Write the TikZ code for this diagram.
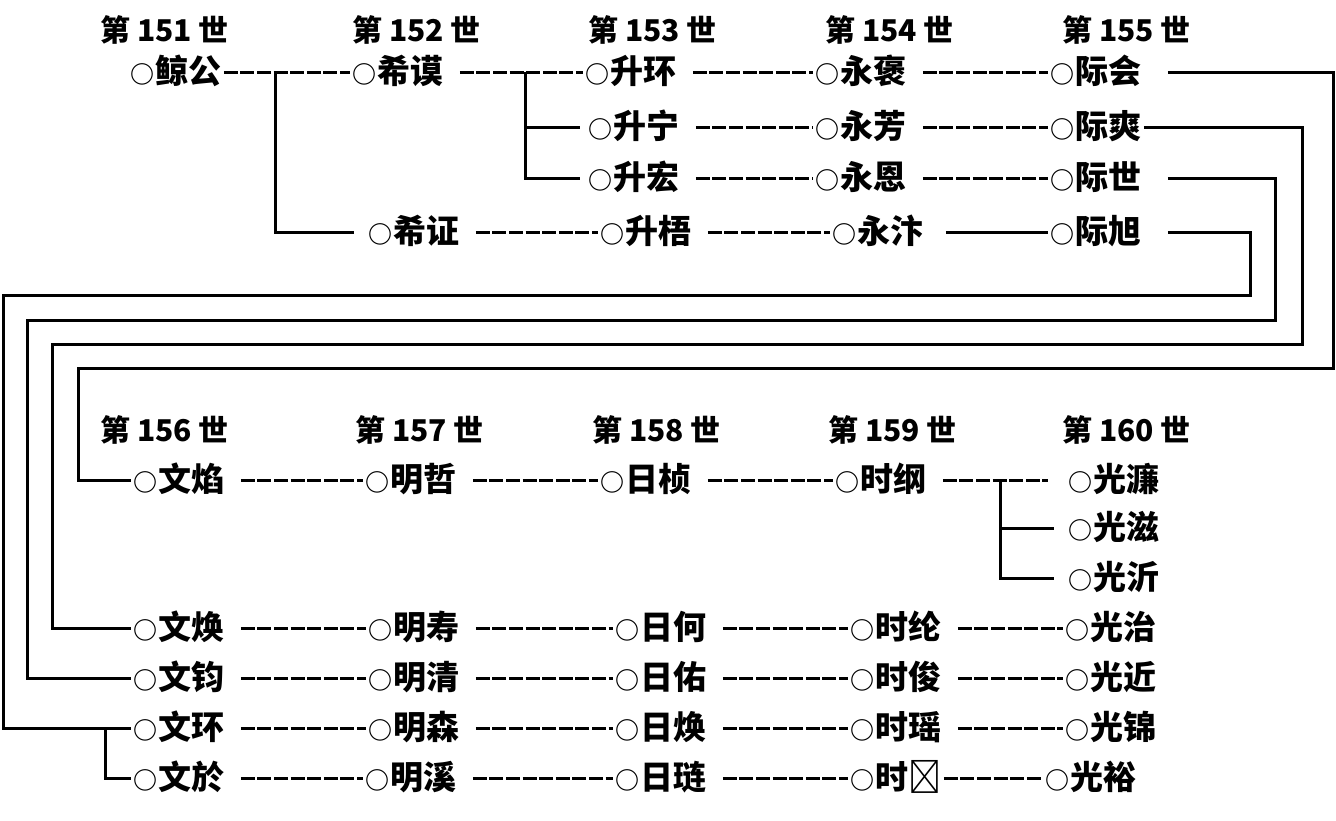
\documentclass[tikz,border=0pt]{standalone}
\usepackage{fontspec}
\setmainfont{Noto Sans CJK SC}
\newcommand\quan{\makebox[12.5pt][c]{\fontsize{12pt}{12pt}\selectfont ○}}
\tikzset{
  gen/.style = {font=\bfseries\fontsize{15pt}{15pt}\selectfont, anchor=west, inner sep=0pt},
  per/.style = {font=\bfseries\fontsize{16.5pt}{16.5pt}\selectfont, anchor=west, inner sep=1pt,
                text height=13pt, text depth=2pt},
  lk/.style  = {line width=1.5pt, dash pattern=on 7pt off 1.3pt, shorten <=7pt},
  br/.style  = {line width=1.5pt},
}
\begin{document}
\begin{tikzpicture}[x=0.5pt, y=-0.5pt]
  \useasboundingbox (0,0) rectangle (1336,820);
  % generations 151-155
  \node[gen] (h151) at (100,30) {第 151 世};
  \node[gen] (h152) at (352,30) {第 152 世};
  \node[gen] (h153) at (588,30) {第 153 世};
  \node[gen] (h154) at (825,30) {第 154 世};
  \node[gen] (h155) at (1062,30) {第 155 世};
  \node[per] (g151)  at (128,72)   {\quan 鲸公};
  \node[per] (g152a) at (350,72)   {\quan 希谟};
  \node[per] (g152b) at (366,232)  {\quan 希证};
  \node[per] (g153a) at (583,72)   {\quan 升环};
  \node[per] (g153b) at (586,127)  {\quan 升宁};
  \node[per] (g153c) at (586,178)  {\quan 升宏};
  \node[per] (g153d) at (598,232)  {\quan 升梧};
  \node[per] (g154a) at (813,72)   {\quan 永褒};
  \node[per] (g154b) at (813,127)  {\quan 永芳};
  \node[per] (g154c) at (813,178)  {\quan 永恩};
  \node[per] (g154d) at (830,232)  {\quan 永汴};
  \node[per] (g155a) at (1048,72)  {\quan 际会};
  \node[per] (g155b) at (1048,127) {\quan 际爽};
  \node[per] (g155c) at (1048,178) {\quan 际世};
  \node[per] (g155d) at (1048,232) {\quan 际旭};
  \draw[lk, shorten <=0pt] (g151)--(g152a);
  \draw[lk] (g152a)--(g153a); \draw[lk] (g153a)--(g154a); \draw[lk] (g154a)--(g155a);
  \draw[lk] (g153b)--(g154b); \draw[lk] (g154b)--(g155b);
  \draw[lk] (g153c)--(g154c); \draw[lk] (g154c)--(g155c);
  \draw[lk] (g152b)--(g153d); \draw[lk] (g153d)--(g154d);
  \draw[br, shorten <=10pt] (g154d)--(g155d);
  \coordinate (j151) at (275,72);
  \draw[br, shorten >=6pt] (j151) |- (g152b);
  \coordinate (j152) at (525,72);
  \draw[br, shorten >=3pt] (j152) |- (g153b);
  \draw[br, shorten >=3pt] (j152) |- (g153c);
  % generations 156-160
  \node[gen] (h156) at (100,430) {第 156 世};
  \node[gen] (h157) at (355,430) {第 157 世};
  \node[gen] (h158) at (592,430) {第 158 世};
  \node[gen] (h159) at (828,430) {第 159 世};
  \node[gen] (h160) at (1062,430) {第 160 世};
  \node[per] (g156a) at (131,480)  {\quan 文焰};
  \node[per] (g157a) at (363,480)  {\quan 明哲};
  \node[per] (g158a) at (598,480)  {\quan 日桢};
  \node[per] (g159a) at (833,480)  {\quan 时纲};
  \node[per] (g160a) at (1066,480) {\quan 光濂};
  \node[per] (g160b) at (1066,528) {\quan 光滋};
  \node[per] (g160c) at (1066,578) {\quan 光沂};
  \node[per] (g156b) at (131,628)  {\quan 文焕};
  \node[per] (g157b) at (366,628)  {\quan 明寿};
  \node[per] (g158b) at (613,628)  {\quan 日何};
  \node[per] (g159b) at (848,628)  {\quan 时纶};
  \node[per] (g160d) at (1063,628) {\quan 光治};
  \node[per] (g156c) at (131,678)  {\quan 文钧};
  \node[per] (g157c) at (366,678)  {\quan 明清};
  \node[per] (g158c) at (613,678)  {\quan 日佑};
  \node[per] (g159c) at (848,678)  {\quan 时俊};
  \node[per] (g160e) at (1063,678) {\quan 光近};
  \node[per] (g156d) at (131,728)  {\quan 文环};
  \node[per] (g157d) at (366,728)  {\quan 明森};
  \node[per] (g158d) at (613,728)  {\quan 日焕};
  \node[per] (g159d) at (848,728)  {\quan 时瑶};
  \node[per] (g160f) at (1063,728) {\quan 光锦};
  \node[per] (g156e) at (131,778)  {\quan 文於};
  \node[per] (g157e) at (363,778)  {\quan 明溪};
  \node[per] (g158e) at (613,778)  {\quan 日琏};
  \node[per] (g159e) at (848,778)  {\quan 时𫓩};
  \node[per] (g160g) at (1043,778) {\quan 光裕};
  \draw[lk] (g156a)--(g157a); \draw[lk] (g157a)--(g158a); \draw[lk] (g158a)--(g159a);
  \draw[lk, shorten >=9pt] (g159a)--(g160a);
  \foreach \r in {b,c,d,e}{
    \draw[lk] (g156\r)--(g157\r); \draw[lk] (g157\r)--(g158\r); \draw[lk] (g158\r)--(g159\r);
  }
  \draw[lk] (g159b)--(g160d); \draw[lk] (g159c)--(g160e);
  \draw[lk] (g159d)--(g160f); \draw[lk, shorten <=0pt] (g159e)--(g160g);
  \coordinate (j159) at (1000,480);
  \draw[br, shorten >=6pt] (j159) |- (g160b);
  \draw[br, shorten >=6pt] (j159) |- (g160c);
  % links between the two halves
  \foreach \s/\t/\xr/\yl/\xl/\sh in {g155a/g156a/1333/368/78/12pt, g155b/g156b/1302/344/52/0pt,
                                      g155c/g156c/1275/320/27/12pt, g155d/g156d/1250/295/3/12pt}
    \draw[br, shorten <=\sh] (\s) -| (\xr,\yl) -- (\xl,\yl) |- (\t);
  \coordinate (j156) at (105,728);
  \draw[br] (j156) |- (g156e);
\end{tikzpicture}
\end{document}
